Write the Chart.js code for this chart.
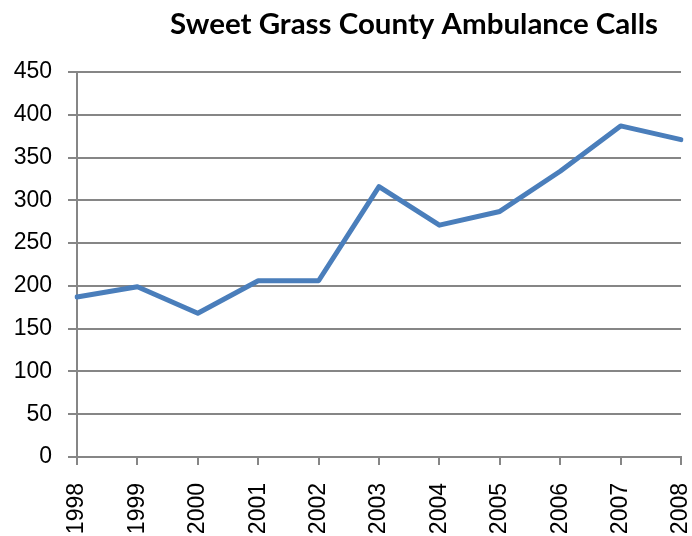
<!DOCTYPE html>
<html>
<head>
<meta charset="utf-8">
<script src="https://cdn.jsdelivr.net/npm/chart.js@4"></script>
<style>
html,body{margin:0;padding:0;background:#fff;}
#c{display:block;}
</style>
</head>
<body>
<canvas id="c" width="692" height="536"></canvas>
<script>
const chartTitle = "Sweet Grass County Ambulance Calls";
const years = ["1998","1999","2000","2001","2002","2003","2004","2005","2006","2007","2008"];
const calls = [187, 199, 168, 206, 206, 316, 271, 287, 334, 387, 371];
const yMin = 0, yMax = 450, yStep = 50;

const titlePlugin = {
  id: 'customTitle',
  afterDraw(chart) {
    const ctx = chart.ctx;
    ctx.save();
    const target = 488;
    ctx.font = 'bold 100px Lato';
    const w = ctx.measureText(chartTitle).width;
    const size = Math.min(34, 100 * target / w);
    ctx.font = 'bold ' + size.toFixed(2) + 'px Lato';
    ctx.fillStyle = '#000';
    ctx.textAlign = 'center';
    ctx.textBaseline = 'middle';
    ctx.fillText(chartTitle, 414, 24);
    ctx.restore();
  }
};

new Chart(document.getElementById('c'), {
  type: 'line',
  data: {
    labels: years,
    datasets: [{
      data: calls,
      borderColor: '#4a7ebb',
      borderWidth: 5,
      borderJoinStyle: 'round',
      borderCapStyle: 'round',
      pointRadius: 0,
      tension: 0,
      fill: false
    }]
  },
  options: {
    responsive: false,
    animation: false,
    layout: { padding: { top: 72, right: 11, left: 0, bottom: 0 } },
    plugins: { legend: { display: false }, title: { display: false }, tooltip: { enabled: false } },
    scales: {
      x: {
        offset: false,
        grid: { drawOnChartArea: false, drawTicks: true, tickLength: 8, color: '#868686', lineWidth: 2 },
        border: { display: true, color: '#868686', width: 2 },
        ticks: {
          autoSkip: false, maxRotation: 90, minRotation: 90, padding: 18,
          color: '#000', font: { family: 'Liberation Sans', size: 23 }
        },
        afterFit(scale) { scale.height = 79; scale.paddingLeft = 0; scale.paddingRight = 0; }
      },
      y: {
        min: yMin, max: yMax,
        grid: { drawTicks: true, tickLength: 9, color: '#868686', lineWidth: 2 },
        border: { display: true, color: '#868686', width: 2 },
        ticks: {
          stepSize: yStep, padding: 16,
          color: '#000', font: { family: 'Liberation Sans', size: 23 }
        },
        afterFit(scale) { scale.width = 77; scale.paddingTop = 0; scale.paddingBottom = 0; }
      }
    }
  },
  plugins: [titlePlugin]
});
</script>
</body>
</html>
